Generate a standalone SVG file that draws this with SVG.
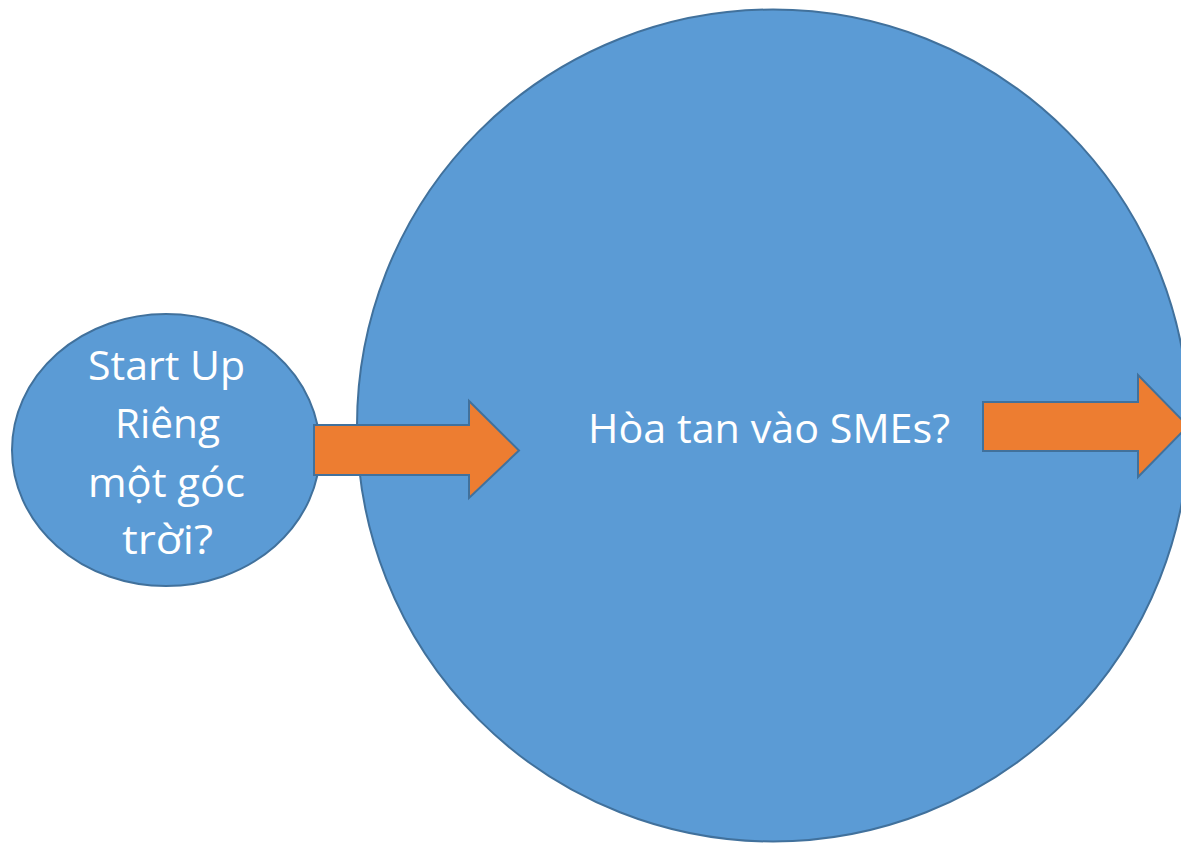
<svg xmlns="http://www.w3.org/2000/svg" width="1181" height="843" viewBox="0 0 1181 843">
<style>
.shape{fill:#5B9BD5;stroke:#41719C;stroke-width:2}
.arrow{fill:#ED7D31;stroke:#41719C;stroke-width:2;stroke-linejoin:miter}
.lbl{font-family:"Open Sans","Noto Sans","Liberation Sans",sans-serif;font-size:41px;fill:#FFFFFF;text-anchor:middle}
</style>
<rect width="1181" height="843" fill="#FFFFFF"/>
<g id="node-smes">
<circle class="shape" cx="773" cy="425.5" r="416"/>
<text class="lbl" x="769" y="443" textLength="362" lengthAdjust="spacingAndGlyphs">Hòa tan vào SMEs?</text>
</g>
<g id="node-startup">
<ellipse class="shape" cx="166" cy="450" rx="154" ry="136"/>
<text class="lbl" x="166.5" y="380" textLength="157" lengthAdjust="spacingAndGlyphs">Start Up</text>
<text class="lbl" x="167.5" y="438" textLength="105" lengthAdjust="spacingAndGlyphs">Riêng</text>
<text class="lbl" x="166.5" y="497" textLength="157" lengthAdjust="spacingAndGlyphs">một góc</text>
<text class="lbl" x="167.5" y="554" textLength="91" lengthAdjust="spacingAndGlyphs">trời?</text>
</g>
<g id="connectors">
<polygon class="arrow" points="314,425 469,425 469,401 519,450.5 469,498 469,475 314,475"/>
<polygon class="arrow" points="983,402 1138,402 1138,375 1188,426 1138,477 1138,451 983,451"/>
</g>
</svg>
